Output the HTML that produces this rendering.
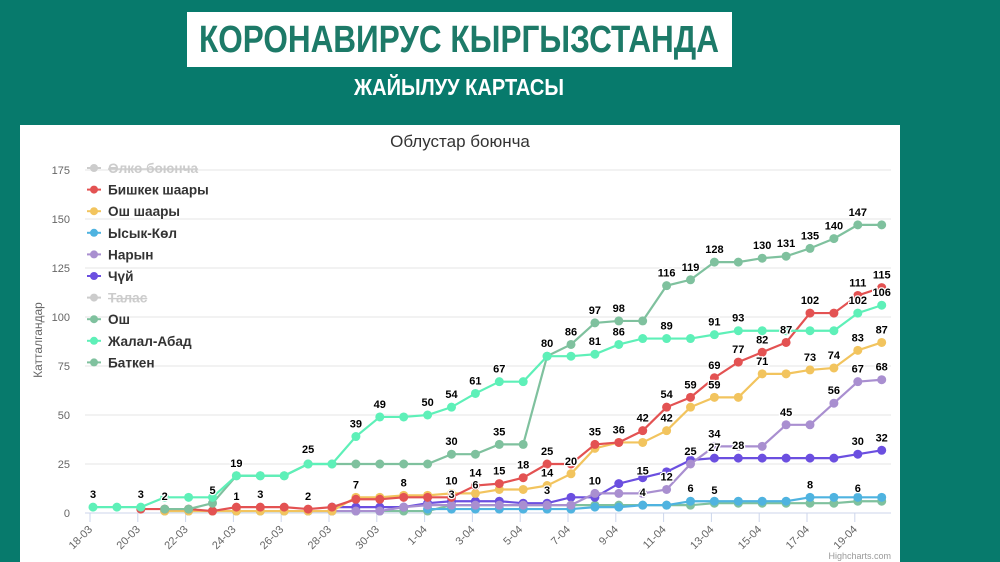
<!DOCTYPE html>
<html><head><meta charset="utf-8"><style>
body{margin:0;width:1000px;height:562px;overflow:hidden;background:#077a6c;font-family:"Liberation Sans",sans-serif}
</style></head><body>
<svg id="s" width="1000" height="562" xmlns="http://www.w3.org/2000/svg" style="position:absolute;left:0;top:0">
<rect x="187" y="12" width="545" height="55" fill="#fff"/>
<text x="459" y="52" text-anchor="middle" font-family="Liberation Sans" font-weight="bold" font-size="38" fill="#1d7a68" textLength="520" lengthAdjust="spacingAndGlyphs">КОРОНАВИРУС КЫРГЫЗСТАНДА</text>
<text x="459" y="95" text-anchor="middle" font-family="Liberation Sans" font-weight="bold" font-size="23" fill="#fff" textLength="210" lengthAdjust="spacingAndGlyphs">ЖАЙЫЛУУ КАРТАСЫ</text>
<rect x="20" y="125" width="880" height="437" fill="#fff"/>
<text x="460" y="147" text-anchor="middle" font-size="17" fill="#333">Облустар боюнча</text>
<text transform="translate(42,340) rotate(-90)" text-anchor="middle" font-size="12" fill="#666">Катталгандар</text>
<g id="g"></g>
<text x="891" y="559" text-anchor="end" font-size="9" fill="#999">Highcharts.com</text>
</svg>
<script>
var g=document.getElementById('g'),h='';
function X(d){return 93+d*23.9}function Y(v){return 513-v*1.96}
for(var v=0;v<=175;v+=25){var y=Y(v);h+='<line x1="85" x2="891" y1="'+y+'" y2="'+y+'" stroke="'+(v?'#e6e6e6':'#ccd6eb')+'"/>';h+='<text x="70" y="'+(y+4)+'" text-anchor="end" font-size="11" fill="#666">'+v+'</text>';}
var dates=['18-03','20-03','22-03','24-03','26-03','28-03','30-03','1-04','3-04','5-04','7-04','9-04','11-04','13-04','15-04','17-04','19-04'];
for(var i=0;i<dates.length;i++){var x=X(i*2)-3;h+='<line x1="'+x+'" x2="'+x+'" y1="513" y2="522" stroke="#ccd6eb"/>';h+='<text transform="translate('+(x+3)+',530) rotate(-45)" text-anchor="end" font-size="11" fill="#666">'+dates[i]+'</text>';}
function N(a,s){var r=[];for(var i=0;i<s;i++)r.push(null);return r.concat(a)}
var S=[
['#7fc19e',N([1,1,1,1,1,1,1,1,1,1,1,1,4,4,4,4,4,4,4,4,4,4,4,5,5,5,5,5,5,6,6],3)],
['#4fb3e0',N([2,2,2,2,2,2,2,3,3,4,4,6,6,6,6,6,8,8,8,8],14)],
['#6b4fe0',N([3,3,3,3,5,6,6,6,5,5,8,8,15,18,21,27,28,28,28,28,28,28,30,32],10)],
['#a98fd0',N([1,1,1,1,3,4,4,4,4,4,4,4,10,10,10,12,25,34,34,34,45,45,56,67,68],9)],
['#f2c45e',N([1,1,1,1,1,1,1,1,8,8,9,9,10,10,12,12,14,20,33,36,36,42,54,59,59,71,71,73,74,83,87],3)],
['#e35252',N([2,2,2,1,3,3,3,2,3,7,7,8,8,8,14,15,18,25,25,35,36,42,54,59,69,77,82,87,102,102,111,115],2)],
['#7fc19e',N([2,2,5,19,19,19,25,25,25,25,25,25,30,30,35,35,80,86,97,98,98,116,119,128,128,130,131,135,140,147,147],3)],
['#5ef0b8',[3,3,3,8,8,8,19,19,19,25,25,39,49,49,50,54,61,67,67,80,80,81,86,89,89,89,91,93,93,93,93,93,102,106]]];
S.forEach(function(s){var p='',c='';s[1].forEach(function(v,d){if(v==null)return;p+=(p?'L':'M')+X(d)+','+Y(v);c+='<circle cx="'+X(d)+'" cy="'+Y(v)+'" r="4.5" fill="'+s[0]+'"/>';});h+='<path d="'+p+'" fill="none" stroke="'+s[0]+'" stroke-width="2.2"/>'+c;});
var L=[[0,3,3],[2,3,3],[3,2,2],[5,5,5],[6,19,19],[6,1,2],[7,3,3],[9,2,2],[9,25,26],[11,7,8],[11,39,39],[12,49,49],[13,8,9],[14,50,50],[15,54,54],[15,10,10],[15,30,30],[15,3,3],[16,61,61],[16,14,14],[16,6,8],[17,67,67],[17,15,15],[17,35,35],[18,18,18],[19,80,80],[19,25,25],[19,14,14],[19,3,5],[20,86,86],[20,20,20],[21,97,97],[21,81,81],[21,35,35],[21,10,10],[22,98,98],[22,86,86],[22,36,36],[23,42,42],[23,15,15],[23,4,4],[24,116,116],[24,89,89],[24,54,54],[24,42,42],[24,12,12],[25,119,119],[25,59,59],[25,25,25],[25,6,6],[26,128,128],[26,91,91],[26,69,69],[26,59,59],[26,34,34],[26,27,27],[26,5,5],[27,93,93],[27,77,77],[27,28,28],[28,130,130],[28,82,82],[28,71,71],[29,131,131],[29,87,87],[29,45,45],[30,135,135],[30,102,102],[30,73,73],[30,8,8],[31,140,140],[31,74,74],[31,56,56],[32,147,147],[32,111,111],[32,102,102],[32,83,83],[32,67,67],[32,30,30],[32,6,6],[33,115,115],[33,106,106],[33,87,87],[33,68,68],[33,32,32]];
L.forEach(function(l){h+='<text x="'+X(l[0])+'" y="'+(Y(l[2])-9)+'" text-anchor="middle" font-size="11" font-weight="bold" fill="#000" stroke="#fff" stroke-width="2.5" paint-order="stroke">'+l[1]+'</text>';});
var leg=[['Өлкө боюнча','#ccc','#ccc'],['Бишкек шаары','#e35252'],['Ош шаары','#f2c45e'],['Ысык-Көл','#4fb3e0'],['Нарын','#a98fd0'],['Чүй','#6b4fe0'],['Талас','#ccc','#ccc'],['Ош','#7fc19e'],['Жалал-Абад','#5ef0b8'],['Баткен','#7fc19e']];
leg.forEach(function(l,i){var y=168+i*21.6;h+='<line x1="87" x2="101" y1="'+y+'" y2="'+y+'" stroke="'+l[1]+'" stroke-width="2"/><circle cx="94" cy="'+y+'" r="4" fill="'+l[1]+'"/><text x="108" y="'+(y+5)+'" font-size="13.6" font-weight="bold" fill="'+(l[2]||'#333')+'"'+(l[2]?' text-decoration="line-through"':'')+'>'+l[0]+'</text>';});
g.innerHTML=h;
</script>
</body></html>
